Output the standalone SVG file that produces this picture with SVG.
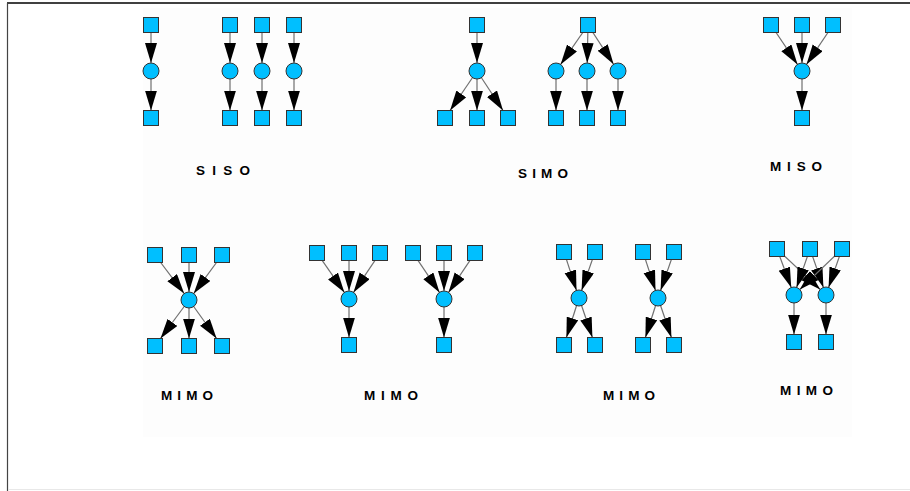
<svg xmlns="http://www.w3.org/2000/svg" width="910" height="491" viewBox="0 0 910 491">
<defs>
<marker id="ah" markerUnits="userSpaceOnUse" markerWidth="21" markerHeight="13" refX="20" refY="6" orient="auto">
<path d="M0,0 L20,6 L0,12 Z" fill="#000"/>
</marker>
<style>
.sq{fill:#00bfff;stroke:#333;stroke-width:1}
.ci{fill:#00bfff;stroke:#333;stroke-width:1}
.e{stroke:#707070;stroke-width:1.2;fill:none;marker-end:url(#ah)}
.lb{font-family:"Liberation Sans",Arial,sans-serif;font-weight:bold;font-size:13.5px;fill:#000}
</style>
</defs>
<rect x="0" y="0" width="910" height="491" fill="#fff"/>
<rect x="143" y="8" width="709" height="429" fill="#fdfdfd"/>
<line x1="7" y1="3" x2="910" y2="3" stroke="#000" stroke-width="1.5"/>
<line x1="7.5" y1="3" x2="7.5" y2="491" stroke="#444" stroke-width="1.2"/>
<line x1="8" y1="489.5" x2="910" y2="489.5" stroke="#e8e8e8" stroke-width="1"/>

<g id="connectors">
<!-- SISO -->
<line class="e" x1="151" y1="25" x2="151" y2="63"/>
<line class="e" x1="151" y1="71" x2="151" y2="110.5"/>
<line class="e" x1="230" y1="25" x2="230" y2="63"/>
<line class="e" x1="230" y1="71" x2="230" y2="110.5"/>
<line class="e" x1="262" y1="25" x2="262" y2="63"/>
<line class="e" x1="262" y1="71" x2="262" y2="110.5"/>
<line class="e" x1="294" y1="25" x2="294" y2="63"/>
<line class="e" x1="294" y1="71" x2="294" y2="110.5"/>
<!-- SIMO 1 -->
<line class="e" x1="477" y1="25" x2="477" y2="63"/>
<line class="e" x1="477" y1="71" x2="450.1" y2="110.5"/>
<line class="e" x1="477" y1="71" x2="477" y2="110.5"/>
<line class="e" x1="477" y1="71" x2="503" y2="110.5"/>
<!-- SIMO 2 -->
<line class="e" x1="588" y1="25" x2="560.6" y2="64.4"/>
<line class="e" x1="588" y1="25" x2="587.2" y2="63"/>
<line class="e" x1="588" y1="25" x2="613.6" y2="64.3"/>
<line class="e" x1="556" y1="71" x2="556" y2="110.5"/>
<line class="e" x1="587" y1="71" x2="587" y2="110.5"/>
<line class="e" x1="618" y1="71" x2="618" y2="110.5"/>
<!-- MISO -->
<line class="e" x1="771" y1="25" x2="797.5" y2="64.4"/>
<line class="e" x1="802" y1="25" x2="802" y2="63"/>
<line class="e" x1="833" y1="25" x2="806.5" y2="64.4"/>
<line class="e" x1="802" y1="71" x2="802" y2="110.5"/>
<!-- MIMO 1 -->
<line class="e" x1="155" y1="255" x2="184.2" y2="293.6"/>
<line class="e" x1="189" y1="255" x2="189" y2="292"/>
<line class="e" x1="222" y1="255" x2="193.7" y2="293.6"/>
<line class="e" x1="189" y1="300" x2="160.5" y2="338.5"/>
<line class="e" x1="189" y1="300" x2="189" y2="338.5"/>
<line class="e" x1="189" y1="300" x2="216.6" y2="338.5"/>
<!-- MIMO 2 -->
<line class="e" x1="317" y1="253" x2="344.4" y2="292.4"/>
<line class="e" x1="349" y1="253" x2="349" y2="291"/>
<line class="e" x1="380" y1="253" x2="353.5" y2="292.4"/>
<line class="e" x1="413" y1="253" x2="439.5" y2="292.4"/>
<line class="e" x1="444" y1="253" x2="444" y2="291"/>
<line class="e" x1="475" y1="253" x2="448.5" y2="292.4"/>
<line class="e" x1="349" y1="299" x2="349" y2="337.5"/>
<line class="e" x1="444" y1="299" x2="444" y2="337.5"/>
<!-- MIMO 3 -->
<line class="e" x1="564" y1="252" x2="576.5" y2="290.4"/>
<line class="e" x1="595" y1="252" x2="581.6" y2="290.4"/>
<line class="e" x1="643" y1="252" x2="655.5" y2="290.4"/>
<line class="e" x1="674" y1="252" x2="660.6" y2="290.4"/>
<line class="e" x1="579" y1="298" x2="566.4" y2="337.5"/>
<line class="e" x1="579" y1="298" x2="592.4" y2="337.5"/>
<line class="e" x1="658" y1="298" x2="645.4" y2="337.5"/>
<line class="e" x1="658" y1="298" x2="671.4" y2="337.5"/>
<!-- MIMO 4 -->
<line class="e" x1="777" y1="249" x2="791.2" y2="287.5"/>
<line class="e" x1="777" y1="249" x2="820.2" y2="289.5"/>
<line class="e" x1="810" y1="249" x2="796.6" y2="287.4"/>
<line class="e" x1="810" y1="249" x2="823.4" y2="287.4"/>
<line class="e" x1="842" y1="249" x2="799.8" y2="289.5"/>
<line class="e" x1="842" y1="249" x2="828.6" y2="287.4"/>
<line class="e" x1="794" y1="295" x2="794" y2="334.5"/>
<line class="e" x1="826" y1="295" x2="826" y2="334.5"/>
</g>

<!-- SISO nodes -->
<g id="siso-a-in"><rect class="sq" x="143.5" y="17.5" width="15" height="15"/></g>
<g id="siso-a-ch"><circle class="ci" cx="151" cy="71" r="8"/></g>
<g id="siso-a-out"><rect class="sq" x="143.5" y="110.5" width="15" height="15"/></g>
<g id="siso-b-in"><rect class="sq" x="222.5" y="17.5" width="15" height="15"/></g>
<g id="siso-b-ch"><circle class="ci" cx="230" cy="71" r="8"/></g>
<g id="siso-b-out"><rect class="sq" x="222.5" y="110.5" width="15" height="15"/></g>
<g id="siso-c-in"><rect class="sq" x="254.5" y="17.5" width="15" height="15"/></g>
<g id="siso-c-ch"><circle class="ci" cx="262" cy="71" r="8"/></g>
<g id="siso-c-out"><rect class="sq" x="254.5" y="110.5" width="15" height="15"/></g>
<g id="siso-d-in"><rect class="sq" x="286.5" y="17.5" width="15" height="15"/></g>
<g id="siso-d-ch"><circle class="ci" cx="294" cy="71" r="8"/></g>
<g id="siso-d-out"><rect class="sq" x="286.5" y="110.5" width="15" height="15"/></g>

<!-- SIMO 1 -->
<g id="simo1-in"><rect class="sq" x="469.5" y="17.5" width="15" height="15"/></g>
<g id="simo1-ch"><circle class="ci" cx="477" cy="71" r="8"/></g>
<g id="simo1-o1"><rect class="sq" x="437.5" y="110.5" width="15" height="15"/></g>
<g id="simo1-o2"><rect class="sq" x="469.5" y="110.5" width="15" height="15"/></g>
<g id="simo1-o3"><rect class="sq" x="500.5" y="110.5" width="15" height="15"/></g>

<!-- SIMO 2 -->
<g id="simo2-in"><rect class="sq" x="580.5" y="17.5" width="15" height="15"/></g>
<g id="simo2-c1"><circle class="ci" cx="556" cy="71" r="8"/></g>
<g id="simo2-c2"><circle class="ci" cx="587" cy="71" r="8"/></g>
<g id="simo2-c3"><circle class="ci" cx="618" cy="71" r="8"/></g>
<g id="simo2-o1"><rect class="sq" x="548.5" y="110.5" width="15" height="15"/></g>
<g id="simo2-o2"><rect class="sq" x="579.5" y="110.5" width="15" height="15"/></g>
<g id="simo2-o3"><rect class="sq" x="610.5" y="110.5" width="15" height="15"/></g>

<!-- MISO -->
<g id="miso-i1"><rect class="sq" x="763.5" y="17.5" width="15" height="15"/></g>
<g id="miso-i2"><rect class="sq" x="794.5" y="17.5" width="15" height="15"/></g>
<g id="miso-i3"><rect class="sq" x="825.5" y="17.5" width="15" height="15"/></g>
<g id="miso-ch"><circle class="ci" cx="802" cy="71" r="8"/></g>
<g id="miso-out"><rect class="sq" x="794.5" y="110.5" width="15" height="15"/></g>

<!-- MIMO 1 -->
<g id="mimo1-i1"><rect class="sq" x="147.5" y="247.5" width="15" height="15"/></g>
<g id="mimo1-i2"><rect class="sq" x="181.5" y="247.5" width="15" height="15"/></g>
<g id="mimo1-i3"><rect class="sq" x="214.5" y="247.5" width="15" height="15"/></g>
<g id="mimo1-ch"><circle class="ci" cx="189" cy="300" r="8"/></g>
<g id="mimo1-o1"><rect class="sq" x="147.5" y="338.5" width="15" height="15"/></g>
<g id="mimo1-o2"><rect class="sq" x="181.5" y="338.5" width="15" height="15"/></g>
<g id="mimo1-o3"><rect class="sq" x="214.5" y="338.5" width="15" height="15"/></g>

<!-- MIMO 2 -->
<g id="mimo2-i1"><rect class="sq" x="309.5" y="245.5" width="15" height="15"/></g>
<g id="mimo2-i2"><rect class="sq" x="341.5" y="245.5" width="15" height="15"/></g>
<g id="mimo2-i3"><rect class="sq" x="372.5" y="245.5" width="15" height="15"/></g>
<g id="mimo2-i4"><rect class="sq" x="405.5" y="245.5" width="15" height="15"/></g>
<g id="mimo2-i5"><rect class="sq" x="436.5" y="245.5" width="15" height="15"/></g>
<g id="mimo2-i6"><rect class="sq" x="467.5" y="245.5" width="15" height="15"/></g>
<g id="mimo2-c1"><circle class="ci" cx="349" cy="299" r="8"/></g>
<g id="mimo2-c2"><circle class="ci" cx="444" cy="299" r="8"/></g>
<g id="mimo2-o1"><rect class="sq" x="341.5" y="337.5" width="15" height="15"/></g>
<g id="mimo2-o2"><rect class="sq" x="436.5" y="337.5" width="15" height="15"/></g>

<!-- MIMO 3 -->
<g id="mimo3-i1"><rect class="sq" x="556.5" y="244.5" width="15" height="15"/></g>
<g id="mimo3-i2"><rect class="sq" x="587.5" y="244.5" width="15" height="15"/></g>
<g id="mimo3-i3"><rect class="sq" x="635.5" y="244.5" width="15" height="15"/></g>
<g id="mimo3-i4"><rect class="sq" x="666.5" y="244.5" width="15" height="15"/></g>
<g id="mimo3-c1"><circle class="ci" cx="579" cy="298" r="8"/></g>
<g id="mimo3-c2"><circle class="ci" cx="658" cy="298" r="8"/></g>
<g id="mimo3-o1"><rect class="sq" x="556.5" y="337.5" width="15" height="15"/></g>
<g id="mimo3-o2"><rect class="sq" x="587.5" y="337.5" width="15" height="15"/></g>
<g id="mimo3-o3"><rect class="sq" x="635.5" y="337.5" width="15" height="15"/></g>
<g id="mimo3-o4"><rect class="sq" x="666.5" y="337.5" width="15" height="15"/></g>

<!-- MIMO 4 -->
<g id="mimo4-i1"><rect class="sq" x="769.5" y="241.5" width="15" height="15"/></g>
<g id="mimo4-i2"><rect class="sq" x="802.5" y="241.5" width="15" height="15"/></g>
<g id="mimo4-i3"><rect class="sq" x="834.5" y="241.5" width="15" height="15"/></g>
<g id="mimo4-c1"><circle class="ci" cx="794" cy="295" r="8"/></g>
<g id="mimo4-c2"><circle class="ci" cx="826" cy="295" r="8"/></g>
<g id="mimo4-o1"><rect class="sq" x="786.5" y="334.5" width="15" height="15"/></g>
<g id="mimo4-o2"><rect class="sq" x="818.5" y="334.5" width="15" height="15"/></g>

<g id="labels">
<text class="lb" x="196" y="175" textLength="54" lengthAdjust="spacing">SISO</text>
<text class="lb" x="518" y="178" textLength="50" lengthAdjust="spacing">SIMO</text>
<text class="lb" x="770" y="171" textLength="52" lengthAdjust="spacing">MISO</text>
<text class="lb" x="161" y="400" textLength="52" lengthAdjust="spacing">MIMO</text>
<text class="lb" x="364" y="400" textLength="54" lengthAdjust="spacing">MIMO</text>
<text class="lb" x="603" y="400" textLength="52" lengthAdjust="spacing">MIMO</text>
<text class="lb" x="780" y="395" textLength="53" lengthAdjust="spacing">MIMO</text>
</g>
</svg>
